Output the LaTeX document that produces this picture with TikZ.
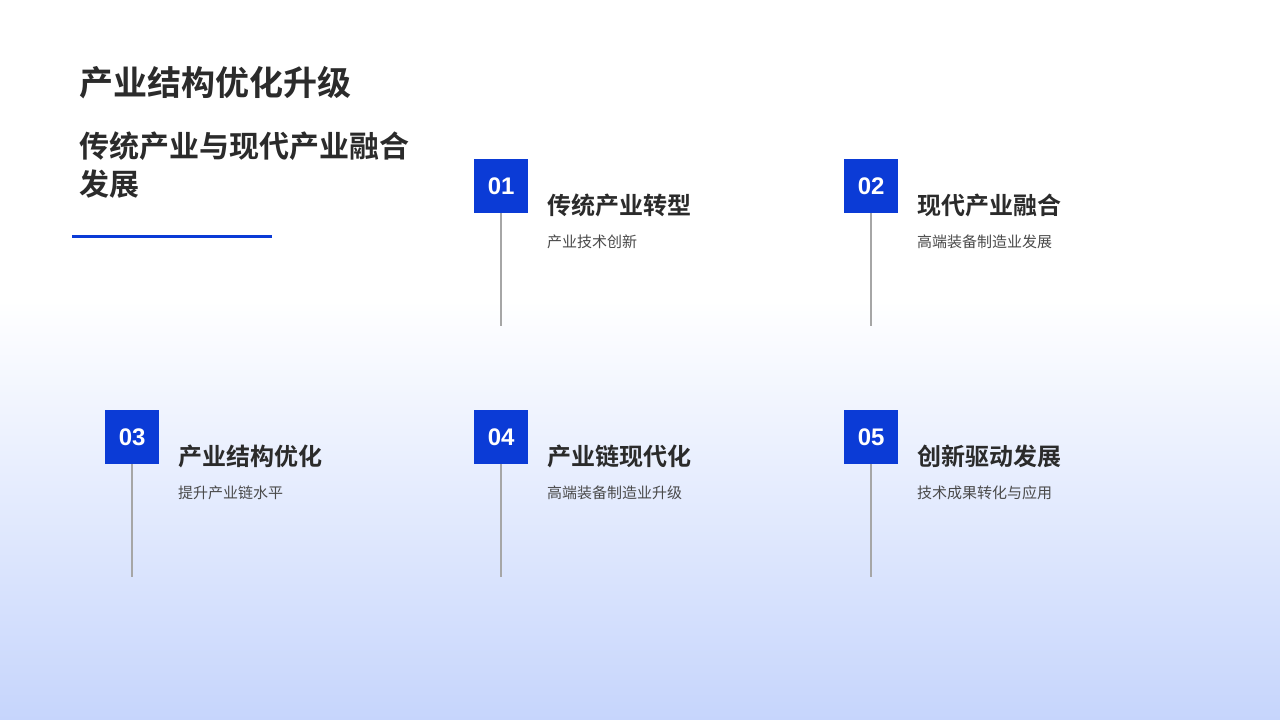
\documentclass[tikz,border=0pt]{standalone}
\usepackage{fontspec}
\newfontfamily\cjk{Noto Sans CJK SC}
\newfontfamily\cjkb{Noto Sans CJK SC Bold}
\setmainfont{Liberation Sans}
\definecolor{bl}{HTML}{0B3BD6}
\definecolor{bgb}{HTML}{C6D5FC}
\definecolor{tx}{HTML}{2B2B2B}
\definecolor{sub}{HTML}{4A4A4A}
\tikzset{
 numbox/.style={fill=bl,minimum width=54pt,minimum height=54pt,inner sep=0,text=white,font=\bfseries\fontsize{24}{24}\selectfont},
 ttl/.style={anchor=west,inner sep=0,text=tx,font=\cjkb\fontsize{24}{24}\selectfont},
 sbt/.style={anchor=west,inner sep=0,text=sub,font=\cjk\fontsize{15}{15}\selectfont},
 stem/.style={draw=gray!70,line width=1.2pt}
}
\begin{document}
\begin{tikzpicture}[x=1pt,y=-1pt]
\useasboundingbox (0,0) rectangle (1280,720);
\fill[white] (0,0) rectangle (1280,300);
\shade[top color=white,bottom color=bgb] (0,299.5) rectangle (1280,720);
\node[anchor=west,inner sep=0,text=tx,font=\cjkb\fontsize{34}{34}\selectfont] (t) at (79,83) {产业结构优化升级};
\node[anchor=west,inner sep=0,text=tx,font=\cjkb\fontsize{30}{30}\selectfont] (s1) at (79,146) {传统产业与现代产业融合};
\node[anchor=west,inner sep=0,text=tx,font=\cjkb\fontsize{30}{30}\selectfont] (s2) at (79,184) {发展};
\draw[bl,line width=3pt] (72,236) -- (272,236);
\foreach \n/\x/\y/\a/\b/\e in {01/474/159/传统产业转型/产业技术创新/326, 02/844/159/现代产业融合/高端装备制造业发展/326, 03/105/410/产业结构优化/提升产业链水平/577, 04/474/410/产业链现代化/高端装备制造业升级/577, 05/844/410/创新驱动发展/技术成果转化与应用/577}{
 \coordinate (e\n) at (\x+27,\e);
 \draw[stem] (\x+27,\y+54) -- (e\n);
 \node[numbox,anchor=north west] (b\n) at (\x,\y) {\n};
 \node[ttl] (h\n) at (\x+73,\y+46) {\a};
 \node[sbt] (d\n) at (\x+73,\y+83) {\b};
}
\end{tikzpicture}
\end{document}
